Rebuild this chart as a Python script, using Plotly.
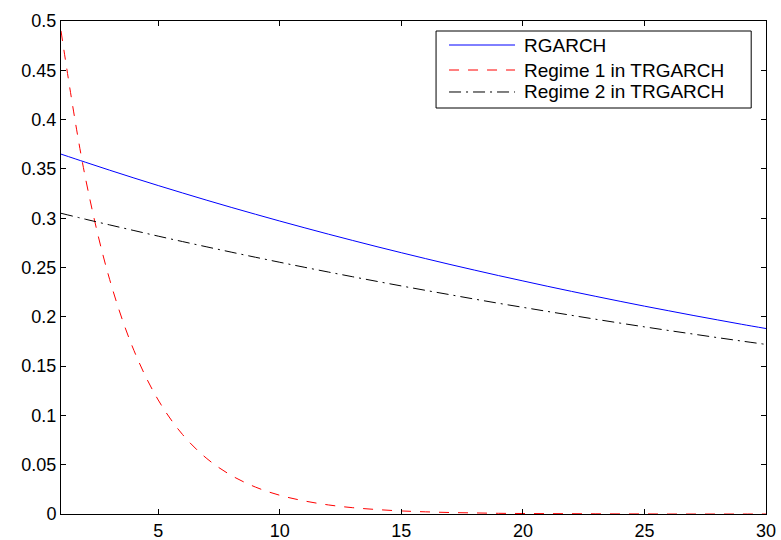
import plotly.graph_objects as go

horizon = list(range(1, 31))

rgarch = [0.3650, 0.3568, 0.3487, 0.3408, 0.3331, 0.3256, 0.3182, 0.3110, 0.3040, 0.2971,
          0.2904, 0.2838, 0.2774, 0.2711, 0.2650, 0.2590, 0.2531, 0.2474, 0.2418, 0.2364,
          0.2310, 0.2258, 0.2207, 0.2157, 0.2108, 0.2061, 0.2014, 0.1969, 0.1924, 0.1881]

regime1 = [0.4900, 0.3415, 0.2380, 0.1659, 0.1156, 0.0806, 0.0562, 0.0392, 0.0273, 0.0190,
           0.0133, 0.0092, 0.0064, 0.0045, 0.0031, 0.0022, 0.0015, 0.0011, 0.0007, 0.0005,
           0.0004, 0.0003, 0.0002, 0.0001, 0.0001, 0.0000, 0.0000, 0.0000, 0.0000, 0.0000]

regime2 = [0.3050, 0.2990, 0.2932, 0.2875, 0.2818, 0.2763, 0.2709, 0.2656, 0.2604, 0.2553,
           0.2503, 0.2454, 0.2406, 0.2359, 0.2313, 0.2268, 0.2224, 0.2180, 0.2137, 0.2096,
           0.2055, 0.2015, 0.1975, 0.1936, 0.1898, 0.1861, 0.1825, 0.1789, 0.1754, 0.1720]

names = ["RGARCH", "Regime 1 in TRGARCH", "Regime 2 in TRGARCH"]
colors = ["#0000ff", "#ff0000", "#000000"]
dashes = ["solid", "10px,9px", "12px,5px,2px,5px"]
x_ticks = [5, 10, 15, 20, 25, 30]
y_ticks = [0, 0.05, 0.1, 0.15, 0.2, 0.25, 0.3, 0.35, 0.4, 0.45, 0.5]
y_tick_labels = ["0", "0.05", "0.1", "0.15", "0.2", "0.25", "0.3", "0.35", "0.4", "0.45", "0.5"]

series = [rgarch, regime1, regime2]

font = dict(family="Liberation Sans, Arial, sans-serif", size=19, color="#000000")
tick_font = dict(family="Liberation Sans, Arial, sans-serif", size=18, color="#000000")

fig = go.Figure()
for name, vals, col, dsh in zip(names, series, colors, dashes):
    fig.add_trace(go.Scatter(x=horizon, y=vals, mode="lines", name=name,
                             line=dict(color=col, width=1, dash=dsh, shape="spline"),
                             showlegend=False))

# Legend drawn as a boxed key in paper coordinates (MATLAB-style)
leg_x0, leg_x1, leg_y0, leg_y1 = 0.532, 0.979, 0.8235, 0.9797
sample_x0, sample_x1, text_x = 0.5504, 0.644, 0.6553
row_y = [0.9513, 0.9006, 0.856]

shapes = [dict(type="rect", xref="paper", yref="paper", x0=leg_x0, x1=leg_x1,
               y0=leg_y0, y1=leg_y1, line=dict(color="#000000", width=1),
               fillcolor="white", layer="above")]
annotations = []
for name, col, dsh, yy in zip(names, colors, dashes, row_y):
    shapes.append(dict(type="line", xref="paper", yref="paper", x0=sample_x0, x1=sample_x1,
                       y0=yy, y1=yy, line=dict(color=col, width=1, dash=dsh), layer="above"))
    annotations.append(dict(text=name, xref="paper", yref="paper", x=text_x, y=yy,
                            xanchor="left", yanchor="middle", showarrow=False, font=font,
                            borderpad=0))

fig.update_layout(
    width=781, height=540,
    margin=dict(l=61, r=15, t=21, b=26),
    paper_bgcolor="white", plot_bgcolor="white",
    font=font,
    showlegend=False,
    shapes=shapes,
    annotations=annotations,
    xaxis=dict(range=[1, 30], tickvals=x_ticks, ticks="inside", ticklen=5,
               tickcolor="#000000", showline=True, linecolor="#000000", linewidth=1,
               mirror="ticks", showgrid=False, zeroline=False, tickfont=tick_font,
               automargin=False),
    yaxis=dict(range=[0, 0.5], tickvals=y_ticks, ticktext=y_tick_labels, ticks="inside",
               ticklen=5, tickcolor="#000000", showline=True, linecolor="#000000", linewidth=1,
               mirror="ticks", showgrid=False, zeroline=False, tickfont=tick_font,
               automargin=False),
)

fig.write_html("out.html")
